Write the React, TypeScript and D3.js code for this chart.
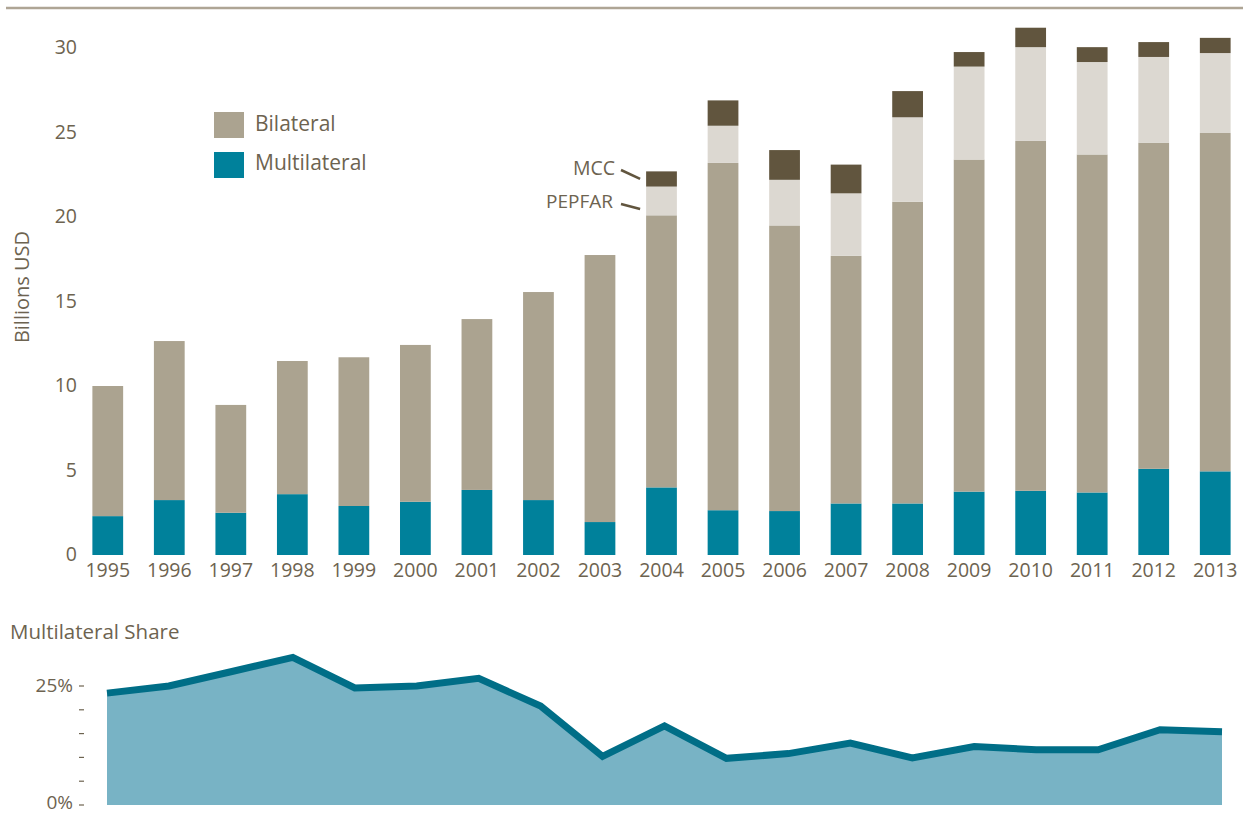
import React from "react";
import * as d3 from "d3";

const years = ["1995","1996","1997","1998","1999","2000","2001","2002","2003","2004","2005","2006","2007","2008","2009","2010","2011","2012","2013"];
const multilateral = [2.3, 3.25, 2.5, 3.6, 2.9, 3.15, 3.85, 3.25, 1.95, 4.0, 2.65, 2.6, 3.05, 3.05, 3.75, 3.8, 3.7, 5.1, 4.95];
const bilateral = [7.7, 9.41, 6.38, 7.88, 8.8, 9.28, 10.11, 12.31, 15.8, 16.1, 20.55, 16.9, 14.65, 17.85, 19.65, 20.7, 20.0, 19.3, 20.02];
const pepfar = [0, 0, 0, 0, 0, 0, 0, 0, 0, 1.7, 2.2, 2.7, 3.7, 5.0, 5.5, 5.55, 5.47, 5.07, 4.73];
const mcc = [0, 0, 0, 0, 0, 0, 0, 0, 0, 0.9, 1.5, 1.76, 1.7, 1.55, 0.86, 1.15, 0.88, 0.88, 0.9];
const share = [23.5, 25.0, 28.0, 31.0, 24.6, 25.0, 26.6, 20.8, 10.2, 16.6, 9.8, 10.8, 13.0, 9.9, 12.3, 11.6, 11.6, 15.8, 15.4];
const yTicks = [0, 5, 10, 15, 20, 25, 30];
const shareTicks = [0, 5, 10, 15, 20, 25];

const keys = ["multilateral", "bilateral", "pepfar", "mcc"];
const colors: Record<string, string> = {
  multilateral: "#00819b",
  bilateral: "#aba390",
  pepfar: "#dcd8d1",
  mcc: "#61553e",
};
const TEXT = "#6d6350";
const FONT = "'Open Sans', sans-serif";

export default function App() {
  const rows = years.map((y, i) => ({
    year: y,
    multilateral: multilateral[i],
    bilateral: bilateral[i],
    pepfar: pepfar[i],
    mcc: mcc[i],
  }));
  const stack = d3.stack<any>().keys(keys)(rows);

  const x = d3.scaleBand<string>().domain(years).range([77, 1246]).paddingInner(0.5).paddingOuter(0.25);
  const y = d3.scaleLinear().domain([0, 30]).range([555, 48]);

  const xs = d3.scaleLinear().domain([0, years.length - 1]).range([107, 1222]);
  const ys = d3.scaleLinear().domain([0, 25]).range([805, 686]);
  const area = d3.area<number>().x((_, i) => xs(i)).y0(ys(0)).y1((d) => ys(d));
  const line = d3.line<number>().x((_, i) => xs(i)).y((d) => ys(d));

  const i2004 = years.indexOf("2004");
  const bx = x("2004")!;
  const mccMid = y(multilateral[i2004] + bilateral[i2004] + pepfar[i2004] + mcc[i2004] / 2);
  const pepMid = y(multilateral[i2004] + bilateral[i2004] + pepfar[i2004] / 2);

  return (
    <div style={{ position: "absolute", left: 0, top: 0 }}>
      <svg width={1243} height={814} style={{ display: "block", fontFamily: FONT }}>
        <line x1={6} x2={1243} y1={8} y2={8} stroke="#aea595" strokeWidth={2.5} />

        {/* Y axis */}
        {yTicks.map((t) => (
          <text key={t} x={77} y={y(t)} dy="0.32em" textAnchor="end" fontSize={19.5} fill={TEXT}>
            {t}
          </text>
        ))}
        <text transform={`translate(29,287) rotate(-90)`} textAnchor="middle" fontSize={20} fill={TEXT}>
          Billions USD
        </text>

        {/* Bars */}
        {stack.map((s) => (
          <g key={s.key} fill={colors[s.key]}>
            {s.map((d, i) =>
              d[1] - d[0] > 0 ? (
                <rect key={i} x={x(years[i])} width={x.bandwidth()} y={y(d[1])} height={y(d[0]) - y(d[1])} />
              ) : null
            )}
          </g>
        ))}

        {/* X labels */}
        {years.map((yr) => (
          <text key={yr} x={x(yr)! + x.bandwidth() / 2} y={571} dy="0.32em" textAnchor="middle" fontSize={19.5} fill={TEXT}>
            {yr}
          </text>
        ))}

        {/* Legend */}
        <rect x={214} y={112} width={30} height={26} fill={colors.bilateral} />
        <text x={255} y={124} dy="0.32em" fontSize={21} fill={TEXT}>Bilateral</text>
        <rect x={214} y={152} width={30} height={26} fill={colors.multilateral} />
        <text x={255} y={163} dy="0.32em" fontSize={21} fill={TEXT}>Multilateral</text>

        {/* Annotations */}
        <text x={615} y={169} dy="0.32em" textAnchor="end" fontSize={19.5} fill={TEXT}>MCC</text>
        <line x1={621} y1={170} x2={bx - 6} y2={mccMid} stroke="#61553e" strokeWidth={2.5} />
        <text x={613} y={202} dy="0.32em" textAnchor="end" fontSize={19} fill={TEXT}>PEPFAR</text>
        <line x1={621} y1={204} x2={bx - 6} y2={pepMid + 8} stroke="#61553e" strokeWidth={2.5} />

        {/* Share chart */}
        <text x={10} y={632} dy="0.32em" fontSize={20.5} fill={TEXT}>Multilateral Share</text>
        {shareTicks.map((t) => (
          <line key={t} x1={79} x2={84} y1={ys(t)} y2={ys(t)} stroke={TEXT} strokeWidth={1.2} />
        ))}
        <text x={73} y={ys(25)} dy="0.32em" textAnchor="end" fontSize={19} fill={TEXT}>25%</text>
        <text x={73} y={ys(0) - 2} dy="0.32em" textAnchor="end" fontSize={19} fill={TEXT}>0%</text>
        <path d={area(share)!} fill="#78b3c5" />
        <path d={line(share)!} fill="none" stroke="#006e87" strokeWidth={7} strokeLinejoin="miter" />
      </svg>
    </div>
  );
}
